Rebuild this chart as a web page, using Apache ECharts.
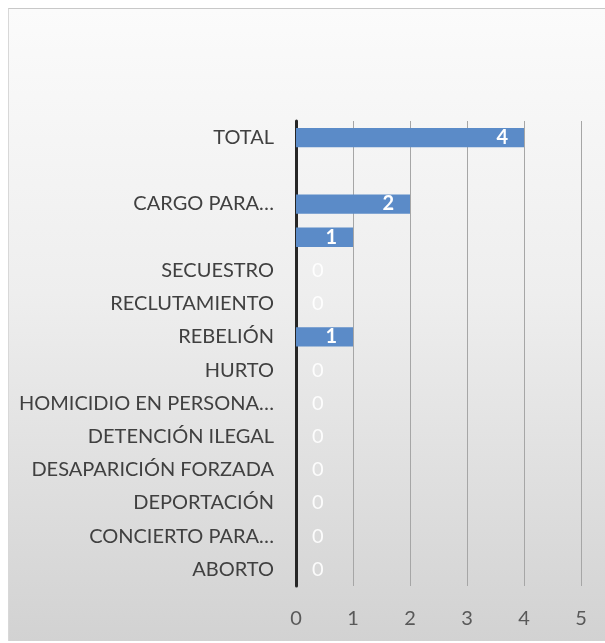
<!DOCTYPE html>
<html>
<head>
<meta charset="utf-8">
<script src="https://cdn.jsdelivr.net/npm/echarts@6/dist/echarts.min.js"></script>
<style>
html,body{margin:0;padding:0;background:#ffffff;width:605px;height:643px;overflow:hidden;}
#box{position:absolute;left:8px;top:8px;width:597px;height:633px;box-sizing:border-box;border-top:1px solid #c8c8c8;border-left:1px solid #d8d8d8;
background:linear-gradient(to bottom,#fbfbfb 0%,#eeeeee 45%,#d2d2d2 100%);}
#chart{position:absolute;left:0;top:0;width:597px;height:633px;}
</style>
</head>
<body>
<div id="box"><div id="chart"></div></div>
<script>
const categories = ['ABORTO','CONCIERTO PARA…','DEPORTACIÓN','DESAPARICIÓN FORZADA','DETENCIÓN ILEGAL','HOMICIDIO EN PERSONA…','HURTO','REBELIÓN','RECLUTAMIENTO','SECUESTRO',' ','CARGO PARA…','  ','TOTAL'];
const values = [0,0,0,0,0,0,0,1,0,0,1,2,null,4];
const xTicks = [0,1,2,3,4,5];

const chart = echarts.init(document.getElementById('chart'), null, {renderer:'canvas'});
const fontFam = 'Lato, "Open Sans", sans-serif';
chart.setOption({
  backgroundColor:'transparent',
  animation:false,
  grid:{left:287,right:25,top:112,bottom:56,containLabel:false},
  xAxis:{
    type:'value', min:xTicks[0], max:xTicks[xTicks.length-1], interval:1,
    axisLine:{show:false}, axisTick:{show:false},
    splitLine:{show:true,lineStyle:{color:'#a6a6a6',width:1}},
    axisLabel:{color:'#595959',fontSize:20,fontFamily:fontFam,margin:23}
  },
  yAxis:{
    type:'category', data:categories,
    axisLine:{show:true,lineStyle:{color:'#262626',width:3}},
    axisTick:{show:false},
    axisLabel:{color:'#404040',fontSize:20,fontFamily:fontFam,margin:22,interval:0}
  },
  series:[{
    type:'bar',
    barWidth:'58%',
    data: values.map(v => v === 0 ? {value:v,label:{position:'right',distance:16,color:'rgba(255,255,255,0.9)',fontWeight:'normal'}} : v),
    itemStyle:{color:'#5b8bc8',borderWidth:0},
    label:{show:true,position:'insideRight',distance:16,color:'#ffffff',fontWeight:'bold',fontSize:20,fontFamily:fontFam}
  }]
});
</script>
</body>
</html>
